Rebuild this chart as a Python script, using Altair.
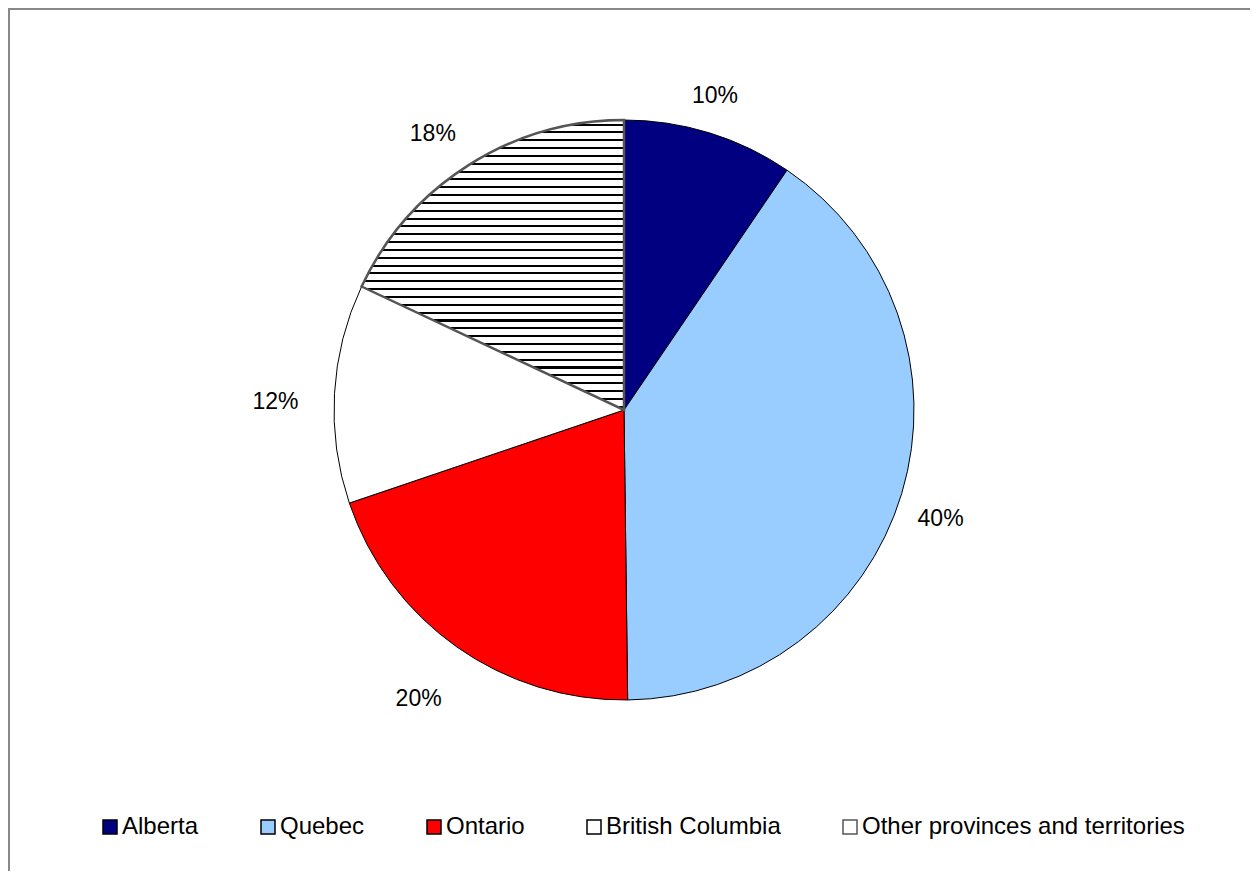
import altair as alt
import pandas as pd

# ---- data ----
categories = ["Alberta", "Quebec", "Ontario", "British Columbia", "Other provinces and territories"]
shares = [9.5, 40.3, 20.0, 12.2, 18.0]
pct_labels = ["10%", "40%", "20%", "12%", "18%"]
slice_order = [1, 2, 3, 4, 5]

fill_colors = ["#000080", "#99CCFF", "#FF0000", "#FFFFFF", "#FFFFFF"]
stroke_colors = ["#000000", "#000000", "#000000", "#000000", "#555555"]

df = pd.DataFrame({
    "category": categories,
    "share": shares,
    "label": pct_labels,
    "order": slice_order,
})

FONT = "Liberation Sans"
W, H = 1242, 863
CX, CY = 616, 402
R = 290

# horizontal hatch pattern via a striped vertical gradient
n_stripes = 37
line_frac = 0.26
stops = [alt.GradientStop(color="#FFFFFF", offset=0)]
for k in range(n_stripes):
    a = (k + 0.45) / n_stripes
    b = a + line_frac / n_stripes
    stops += [
        alt.GradientStop(color="#FFFFFF", offset=a),
        alt.GradientStop(color="#000000", offset=a),
        alt.GradientStop(color="#000000", offset=b),
        alt.GradientStop(color="#FFFFFF", offset=b),
    ]
stops.append(alt.GradientStop(color="#FFFFFF", offset=1))
hatch = alt.Gradient(gradient="linear", stops=stops, x1=0, x2=0, y1=0, y2=1)

theta = alt.Theta("share:Q", stack=True)
order = alt.Order("order:Q", sort="ascending")
center = dict(x=alt.value(CX), y=alt.value(CY))

pie = alt.Chart(df).mark_arc(outerRadius=R, strokeWidth=1).encode(
    theta=theta,
    order=order,
    fill=alt.Fill(
        "category:N",
        sort=categories,
        scale=alt.Scale(domain=categories, range=fill_colors),
        legend=alt.Legend(title=None),
    ),
    stroke=alt.Stroke(
        "category:N",
        sort=categories,
        scale=alt.Scale(domain=categories, range=stroke_colors),
        legend=alt.Legend(title=None),
    ),
    **center,
)

hatched = alt.Chart(df).mark_arc(
    outerRadius=R, fill=hatch, stroke="#555555", strokeWidth=2.5
).encode(
    theta=theta,
    order=order,
    opacity=alt.condition(
        alt.datum.category == "Other provinces and territories", alt.value(1), alt.value(0)
    ),
    **center,
)

labels = alt.Chart(df).mark_text(
    radius=340, dx=-9, dy=11, font=FONT, fontSize=23, color="#000000",
    align="center", baseline="middle"
).encode(
    theta=theta,
    order=order,
    text="label:N",
    **center,
)

frame_top = alt.Chart(df).mark_rule(color="#888888", strokeWidth=2).encode(
    x=alt.value(0), x2=alt.value(W), y=alt.value(1)
)
frame_left = alt.Chart(df).mark_rule(color="#888888", strokeWidth=2).encode(
    x=alt.value(1), y=alt.value(0), y2=alt.value(H)
)

chart = alt.layer(pie, hatched, labels, frame_top, frame_left).properties(
    width=W,
    height=H,
    padding=0,
    autosize=alt.AutoSizeParams(type="none"),
    background="#FFFFFF",
).configure_view(
    stroke=None
).configure_legend(
    orient="none",
    legendX=90,
    legendY=807,
    direction="horizontal",
    symbolType="square",
    symbolSize=196,
    symbolStrokeWidth=1.5,
    labelFont=FONT,
    labelFontSize=24,
    labelColor="#000000",
    labelOffset=0,
    columnPadding=57,
    padding=0,
    labelLimit=0,
)

chart.save("out.html", embed_options={"renderer": "svg", "actions": False})
